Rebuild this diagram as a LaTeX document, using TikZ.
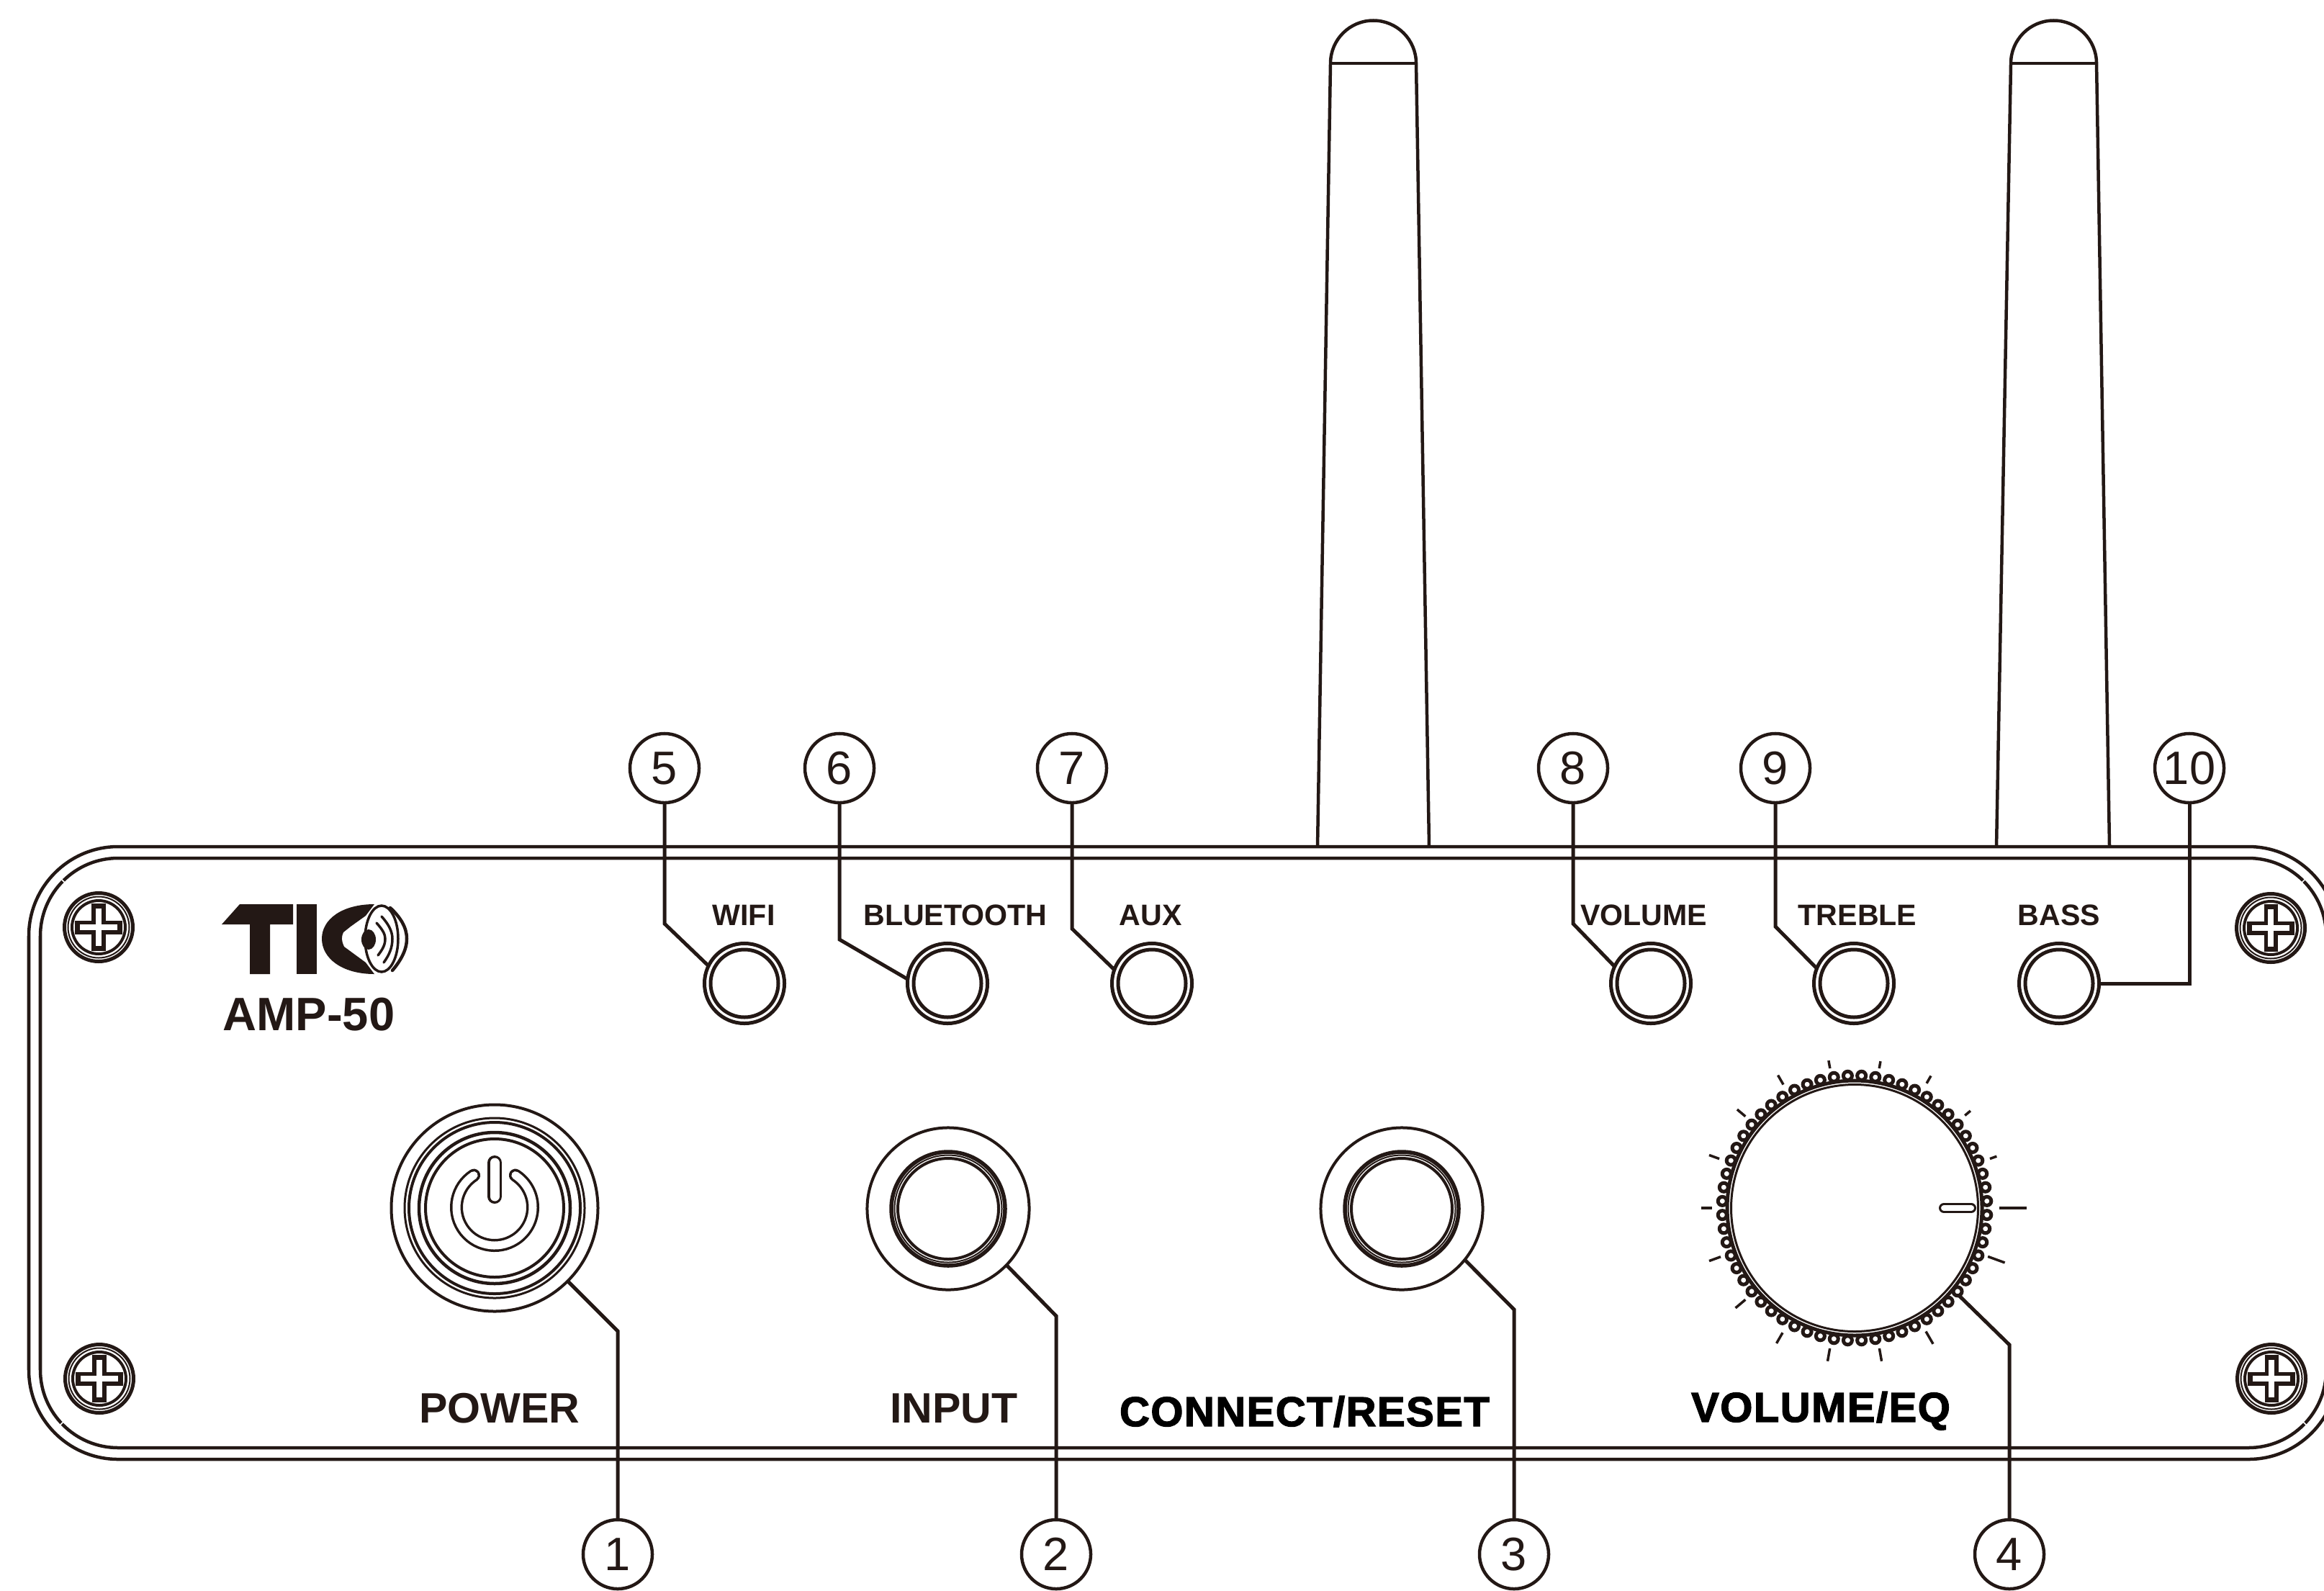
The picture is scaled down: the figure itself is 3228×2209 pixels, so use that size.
\documentclass[tikz,border=0pt]{standalone}
\usepackage{fontspec}
\setmainfont{Liberation Sans}
\newfontfamily\heavyfont[FakeBold=2.2,LetterSpace=2.5]{Liberation Sans Bold}
\usetikzlibrary{calc}
\definecolor{ink}{HTML}{231815}
\tikzset{
  x=0.01cm,y=-0.01cm,
  every node/.style={inner sep=0pt,outer sep=0pt,text=ink},
  panelline/.style={draw=ink,line width=0.045cm},
  lead/.style={draw=ink,line width=0.05cm,line join=miter},
  numcircle/.style={circle,draw=ink,line width=0.045cm,minimum size=0.96cm,font=\fontsize{18.5}{19}\selectfont},
  led/.style={circle,draw=ink,line width=0.05cm,minimum size=1.11cm},
  ledring/.style={draw=ink,line width=0.05cm},
  ring/.style={draw=ink,line width=0.04cm},
  tick/.style={draw=ink,line width=0.035cm},
  smalllab/.style={anchor=base,font=\bfseries\fontsize{11.7}{12}\selectfont},
  biglab/.style={anchor=base,font=\bfseries\fontsize{16.8}{17}\selectfont},
  heavylab/.style={anchor=base,text=black,font=\heavyfont\fontsize{16.5}{18}\selectfont},
  hollow/.style={draw=ink,line width=0.035cm,double=white,line cap=round},
  logoline/.style={draw=ink,line width=0.035cm,line cap=round},
  screw/.pic={
    \draw[ink,line width=0.05cm] (0,0) circle (47.5);
    \draw[ink,line width=0.02cm] (0,0) circle (42.5);
    \draw[ink,line width=0.04cm] (0,0) circle (37);
    \draw[ink,line width=0.19cm] (-33,0) -- (33,0) (0,-33) -- (0,33);
    \draw[white,line width=0.075cm] (-26,0) -- (26,0) (0,-26) -- (0,26);
  }
}
\begin{document}
\begin{tikzpicture}
\useasboundingbox (0,0) rectangle (3228,2209);
\clip (0,0) rectangle (3228,2209);

% antennas
\draw[panelline,line join=round] (1830,1176) -- (1848,88) arc[start angle=180,end angle=360,radius=59.5] -- (1985,1176);
\draw[panelline] (1848,88) -- (1967,88);
\draw[panelline,line join=round] (2773,1176) -- (2793,88) arc[start angle=180,end angle=360,radius=59.5] -- (2930,1176);
\draw[panelline] (2793,88) -- (2912,88);

% panel
\draw[panelline,rounded corners=1.24cm] (40,1176) rectangle (3247,2027);
\draw[panelline,rounded corners=1.08cm] (56,1192) rectangle (3231,2011);
\draw[white,line width=0.015cm]
  (80,1216) -- (90,1226)
  (3207,1983) -- (3197,1973)
  (3207,1216) -- (3197,1226)
  (80,1983) -- (90,1973);

% screws
\pic at (137,1288) {screw};
\pic at (138,1915) {screw};
\pic at (3154,1289) {screw};
\pic at (3155,1915) {screw};

% logo
\fill[ink] (308,1284) -- (333,1256) -- (407,1256) -- (407,1284) -- (375,1284) -- (375,1353) -- (347,1353) -- (347,1284) -- cycle;
\fill[ink] (412,1256) rectangle (440,1353);
\fill[ink] (520,1256) .. controls (475,1256) and (447,1277) .. (447,1304)
  .. controls (447,1331) and (475,1353) .. (520,1353)
  -- (508,1337) -- (478,1315) .. controls (474,1306) and (474,1302) .. (477,1295)
  -- (487,1287) -- (508,1272) -- cycle;
\draw[logoline] (530,1304) ellipse [x radius=23,y radius=46];
\fill[ink] (512,1305) ellipse [x radius=10,y radius=14];
\draw[logoline] (523,1282) .. controls (532,1292) and (535,1298) .. (535,1304) .. controls (535,1312) and (532,1318) .. (525,1327);
\draw[logoline] (530,1273) .. controls (540,1284) and (545,1294) .. (545,1304) .. controls (545,1316) and (541,1326) .. (533,1337);
\draw[logoline,line width=0.045cm] (542,1261) .. controls (556,1274) and (565,1288) .. (565,1304) .. controls (565,1320) and (556,1335) .. (545,1348);
\node[anchor=base,font=\bfseries\fontsize{18.5}{19}\selectfont] (model) at (429,1431) {AMP-50};

% LED buttons
\node[led] (b5) at (1034,1366) {};
\node[led] (b6) at (1316,1366) {};
\node[led] (b7) at (1600,1366) {};
\node[led] (b8) at (2293,1366) {};
\node[led] (b9) at (2575,1366) {};
\node[led] (b10) at (2860,1366) {};
\foreach \n in {b5,b6,b7,b8,b9,b10} \draw[ledring] (\n) circle (47);

% small labels
\node[smalllab] (lwifi) at (1033,1285) {WIFI};
\node[smalllab] (lbt) at (1327,1285) {BLUETOOTH};
\node[smalllab] (laux) at (1598,1285) {AUX};
\node[smalllab] (lvol) at (2283,1285) {VOLUME};
\node[smalllab] (ltre) at (2580,1285) {TREBLE};
\node[smalllab] (lbas) at (2860,1285) {BASS};

% power button
\node[circle,minimum size=2.87cm] (pw) at (687,1678) {};
\coordinate (pwc) at (687,1677);
\foreach \r/\w in {143.5/0.04,125/0.03,119/0.04,105/0.045,96/0.04}
  \draw[draw=ink,line width=\w cm] (pw) circle (\r);
\draw[hollow,double distance=0.11cm] (pwc) ++(237:53) arc[start angle=237,end angle=-57,radius=53];
\draw[hollow,double distance=0.13cm] (687,1615) -- (687,1662);

% input and connect buttons
\node[circle,draw=ink,line width=0.04cm,minimum size=2.25cm] (inp) at (1317,1679) {};
\node[circle,draw=ink,line width=0.04cm,minimum size=2.25cm] (con) at (1947,1679) {};
\foreach \n in {inp,con} {
  \draw[draw=ink,line width=0.055cm] (\n) circle (79);
  \draw[draw=ink,line width=0.02cm] (\n) circle (74.5);
  \draw[draw=ink,line width=0.04cm] (\n) circle (70);
}

% knob
\node[circle,minimum size=3.8cm] (knob) at (2576,1678) {};
\coordinate (kc) at (2576,1678);
\foreach \a in {3,9,...,357} \draw[draw=ink,line width=0.05cm,fill=white] (kc) ++(\a:184) circle (6);
\draw[draw=ink,line width=0.05cm,fill=white] (kc) circle (177);
\draw[draw=ink,line width=0.03cm] (kc) circle (171.5);
\foreach \a/\i/\o in {0/201/239,20/200/210,40/200/210,60/200/212,80/197/207,100/197/208,120/198/213,140/198/213,160/200/215,180/198/213,200/198/215,220/198/216,240/200/217,260/198/216,280/198/216,300/198/218,340/197/222}
  \draw[tick] (kc) ++(-\a:\i) -- ++(-\a:\o-\i);
\draw[draw=ink,line width=0.03cm,double=white,double distance=0.08cm,line cap=round] (2700,1678) -- (2738,1678);

% big labels
\node[biglab] (lpow) at (694,1976) {POWER};
\node[biglab] (linp) at (1325,1976) {INPUT};
\node[heavylab] (lcon) at (1812,1981) {CONNECT/RESET};
\node[heavylab] (lknob) at (2529,1975) {VOLUME/EQ};

% number circles
\node[numcircle] (n5) at (923,1067) {5};
\node[numcircle] (n6) at (1166,1067) {6};
\node[numcircle] (n7) at (1489,1067) {7};
\node[numcircle] (n8) at (2185,1067) {8};
\node[numcircle] (n9) at (2466,1067) {9};
\node[numcircle] (n10) at (3041,1067) {10};
\node[numcircle] (n1) at (858,2159) {1};
\node[numcircle] (n2) at (1467,2159) {2};
\node[numcircle] (n3) at (2103,2159) {3};
\node[numcircle] (n4) at (2791,2159) {4};

% knees
\coordinate (k5) at (923,1283);
\coordinate (k6) at (1166,1305);
\coordinate (k7) at (1489,1290);
\coordinate (k8) at (2185,1283);
\coordinate (k9) at (2466,1287);
\coordinate (k1) at (858,1849);
\coordinate (k2) at (1467,1828);
\coordinate (k3) at (2103,1819);
\coordinate (k4) at (2791,1868);

% connectors
\draw[lead] (n5) -- (k5) -- (b5.154);
\draw[lead] (n6) -- (k6) -- (b6.174);
\draw[lead] (n7) -- (k7) -- (b7.160);
\draw[lead] (n8) -- (k8) -- (b8.155);
\draw[lead] (n9) -- (k9) -- (b9.158);
\draw[lead] (n10) |- (b10.east);
\draw[lead] (n1) -- (k1) -- (pw.-45);
\draw[lead] (n2) -- (k2) -- (inp.-44.5);
\draw[lead] (n3) -- (k3) -- (con.-39.5);
\draw[lead] (n4) -- (k4) -- (knob.-40);
\end{tikzpicture}
\end{document}
